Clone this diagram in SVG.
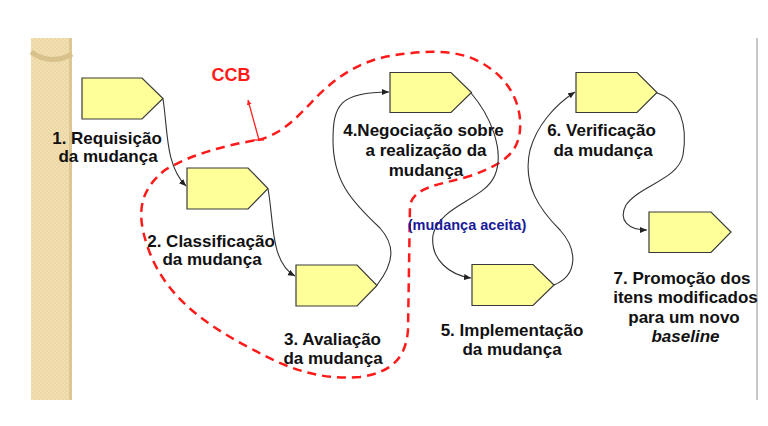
<svg xmlns="http://www.w3.org/2000/svg" width="768" height="426" viewBox="0 0 768 426">
<style>
.node{fill:#ffff99;stroke:#3a3a3a;stroke-width:1.2}
.lbl{font-family:"Liberation Sans",Arial,sans-serif;font-weight:bold;font-size:17px;fill:#111;text-anchor:middle}
.con{fill:none;stroke:#333;stroke-width:1.1}
</style>
<defs>
<marker id="ah" markerUnits="userSpaceOnUse" markerWidth="8" markerHeight="7" refX="7" refY="3" orient="auto">
<path d="M0,0 L7,3 L0,6 z" fill="#222"/>
</marker>
<marker id="rah" markerUnits="userSpaceOnUse" markerWidth="6" markerHeight="6" refX="5" refY="2.5" orient="auto">
<path d="M0,0 L5,2.5 L0,5 z" fill="#ff2020"/>
</marker>
<pattern id="tex" width="4" height="4" patternUnits="userSpaceOnUse">
<rect width="4" height="4" fill="#f1dfb2"/>
<rect width="2" height="2" fill="#ecd8a6"/>
<rect x="2" y="2" width="2" height="2" fill="#ecd8a6"/>
</pattern>
</defs>
<rect width="768" height="426" fill="#ffffff"/>
<g id="background">
<rect x="31" y="38" width="41" height="362" fill="url(#tex)"/>
<rect x="69" y="38" width="3" height="362" fill="#dcc795"/>
<path d="M31,52 Q51,66 72,54" fill="none" stroke="#d9c18b" stroke-width="5"/>
<rect x="756" y="38" width="2" height="362" fill="#c8c8c8"/>
</g>
<g id="ccb-region">
<path d="M258,140 C282,134 296,118 310,104 C330,82 355,62 390,56 C420,51 455,48 480,62 C510,78 522,105 520,130 C518,155 500,165 470,176 C440,185 415,186 410,205 L408,330 C406,355 395,372 360,377 C320,380 290,370 250,348 C200,322 162,292 147,245 C136,212 140,190 165,170 C190,155 225,145 258,140 Z" fill="none" stroke="#ff1a1a" stroke-width="2.5" stroke-dasharray="9,6"/>
<line x1="259" y1="140" x2="248" y2="100" stroke="#ff2020" stroke-width="1.3" marker-end="url(#rah)"/>
<line x1="254" y1="140" x2="264" y2="140" stroke="#ff2020" stroke-width="1.3"/>
<text x="231" y="81" style="font-family:'Liberation Sans',Arial,sans-serif;font-weight:bold;font-size:18px;fill:#ff1a1a;text-anchor:middle">CCB</text>
</g>
<g id="connectors">
<path class="con" d="M163,99 C168,130 165,165 186,186" marker-end="url(#ah)"/>
<path class="con" d="M268,189 C274,220 270,262 295,276" marker-end="url(#ah)"/>
<path class="con" d="M377,285 C395,262 395,245 380,228 C350,200 333,180 333,140 C333,105 340,92 389,92" marker-end="url(#ah)"/>
<path class="con" d="M471,93 C490,115 505,150 495,175 C485,200 440,205 433,235 C430,260 450,275 471,278" marker-end="url(#ah)"/>
<path class="con" d="M554,285 C578,275 578,250 560,230 C540,210 522,185 530,150 C537,125 555,105 575,92" marker-end="url(#ah)"/>
<path class="con" d="M657,93 C680,100 688,125 683,155 C678,180 640,185 626,205 C618,220 628,230 647,230" marker-end="url(#ah)"/>
<text x="467" y="230" style="font-family:'Liberation Sans',Arial,sans-serif;font-weight:bold;font-size:14.5px;fill:#1a1a99;text-anchor:middle">(mudança aceita)</text>
</g>
<g id="n1">
<path class="node" d="M82,78 H142 L163,98.5 L142,119 H82 Z"/>
<text class="lbl" x="107" y="143.5">1. Requisição</text>
<text class="lbl" x="108" y="162">da mudança</text>
</g>
<g id="n2">
<path class="node" d="M187,168 H248 L268,188.5 L248,209 H187 Z"/>
<text class="lbl" x="211" y="246.5">2. Classificação</text>
<text class="lbl" x="212" y="265">da mudança</text>
</g>
<g id="n3">
<path class="node" d="M296,265 H357 L377,285.5 L357,306 H296 Z"/>
<text class="lbl" x="332.5" y="345">3. Avaliação</text>
<text class="lbl" x="333" y="363.5">da mudança</text>
</g>
<g id="n4">
<path class="node" d="M390,72.5 H451 L471.5,92.5 L451,112.5 H390 Z"/>
<text class="lbl" x="423.5" y="135.5">4.Negociação sobre</text>
<text class="lbl" x="426" y="156">a realização da</text>
<text class="lbl" x="426" y="176">mudança</text>
</g>
<g id="n5">
<path class="node" d="M472,264.5 H533 L554,285 L533,305.5 H472 Z"/>
<text class="lbl" x="512" y="336">5. Implementação</text>
<text class="lbl" x="512" y="355">da mudança</text>
</g>
<g id="n6">
<path class="node" d="M576,72.5 H637 L657,92.5 L637,112.5 H576 Z"/>
<text class="lbl" x="601.5" y="136">6. Verificação</text>
<text class="lbl" x="603" y="156">da mudança</text>
</g>
<g id="n7">
<path class="node" d="M649,212 H711 L731,232 L711,252.5 H649 Z"/>
<text class="lbl" x="682" y="283.5">7. Promoção dos</text>
<text class="lbl" x="685.5" y="303">itens modificados</text>
<text class="lbl" x="684" y="322.5">para um novo</text>
<text class="lbl" x="685.5" y="341.5" font-style="italic">baseline</text>
</g>
</svg>
